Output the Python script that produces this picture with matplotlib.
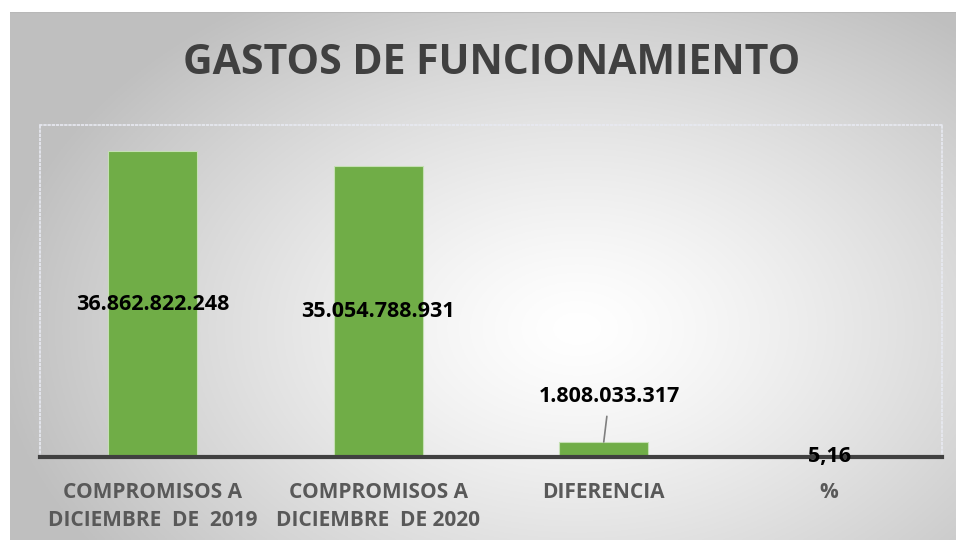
import numpy as np
import matplotlib
matplotlib.use("Agg")
import matplotlib.pyplot as plt

# Data
categorias = ["COMPROMISOS A\nDICIEMBRE  DE  2019", "COMPROMISOS A\nDICIEMBRE  DE 2020",
              "DIFERENCIA", "%"]
valores = [36862822248, 35054788931, 1808033317, 5.16]
etiquetas = ["36.862.822.248", "35.054.788.931", "1.808.033.317", "5,16"]
titulo = "GASTOS DE FUNCIONAMIENTO"

plt.rcParams['font.family'] = ['Open Sans', 'DejaVu Sans']

W, H = 956, 540
fig = plt.figure(figsize=(W / 100, H / 100), dpi=100)
fig.patch.set_facecolor("white")

# radial gradient background
bg = fig.add_axes([10 / W, 0, (W - 10) / W, (H - 12) / H], zorder=-2)
yy, xx = np.mgrid[0:1:300j, 0:1:500j]
d = np.sqrt(((xx - 0.6) / 0.62) ** 2 + ((yy - 0.6) / 0.75) ** 2)
g = 1 - 0.25 * np.clip(d, 0, 1) ** 1.3
bg.imshow(np.dstack([g, g, g]), extent=[0, 1, 0, 1], aspect="auto", origin="upper")
bg.axhline(1, color="#b8b8b8", lw=1.5)
bg.axis("off")

fig.text(0.514, 1 - 64 / H, titulo, ha="center", va="center", fontsize=29.5,
         fontweight="bold", color="#404040")

ax = fig.add_axes([40 / W, (H - 457) / H, 902 / W, 332 / H])
ax.patch.set_alpha(0)
x = np.arange(len(valores))
bars = ax.bar(x, valores, width=0.395, color="#70ad47", edgecolor="#c5e0b4", linewidth=0.8)
ax.set_xlim(-0.5, 3.5)
ax.set_ylim(0, 40e9)

for s in ["top", "left", "right"]:
    ax.spines[s].set_visible(True)
    ax.spines[s].set_color("#e8eaf2")
    ax.spines[s].set_linestyle((0, (1, 1.5)))
    ax.spines[s].set_linewidth(1.2)
ax.spines["bottom"].set_color("#404040")
ax.spines["bottom"].set_linewidth(3)
ax.set_yticks([])
ax.set_xticks(x)
ax.set_xticklabels(categorias, fontsize=15, fontweight="bold", color="#595959",
                   linespacing=1.42, va="top")
ax.tick_params(axis="x", length=0, pad=18)

# data labels
for i in range(2):
    ax.text(x[i], valores[i] / 2, etiquetas[i], ha="center", va="center",
            fontsize=15.5, fontweight="bold", color="black")
ax.annotate(etiquetas[2], xy=(x[2], valores[2]), xytext=(4, 33),
            textcoords="offset points", ha="center", va="center",
            fontsize=15.5, fontweight="bold", color="black",
            arrowprops=dict(arrowstyle="-", color="#7f7f7f", lw=1.2,
                            shrinkA=5, shrinkB=0))
ax.text(x[3], valores[3], etiquetas[3], ha="center", va="center",
        fontsize=15.5, fontweight="bold", color="black")

fig.savefig("out.png", dpi=100)
